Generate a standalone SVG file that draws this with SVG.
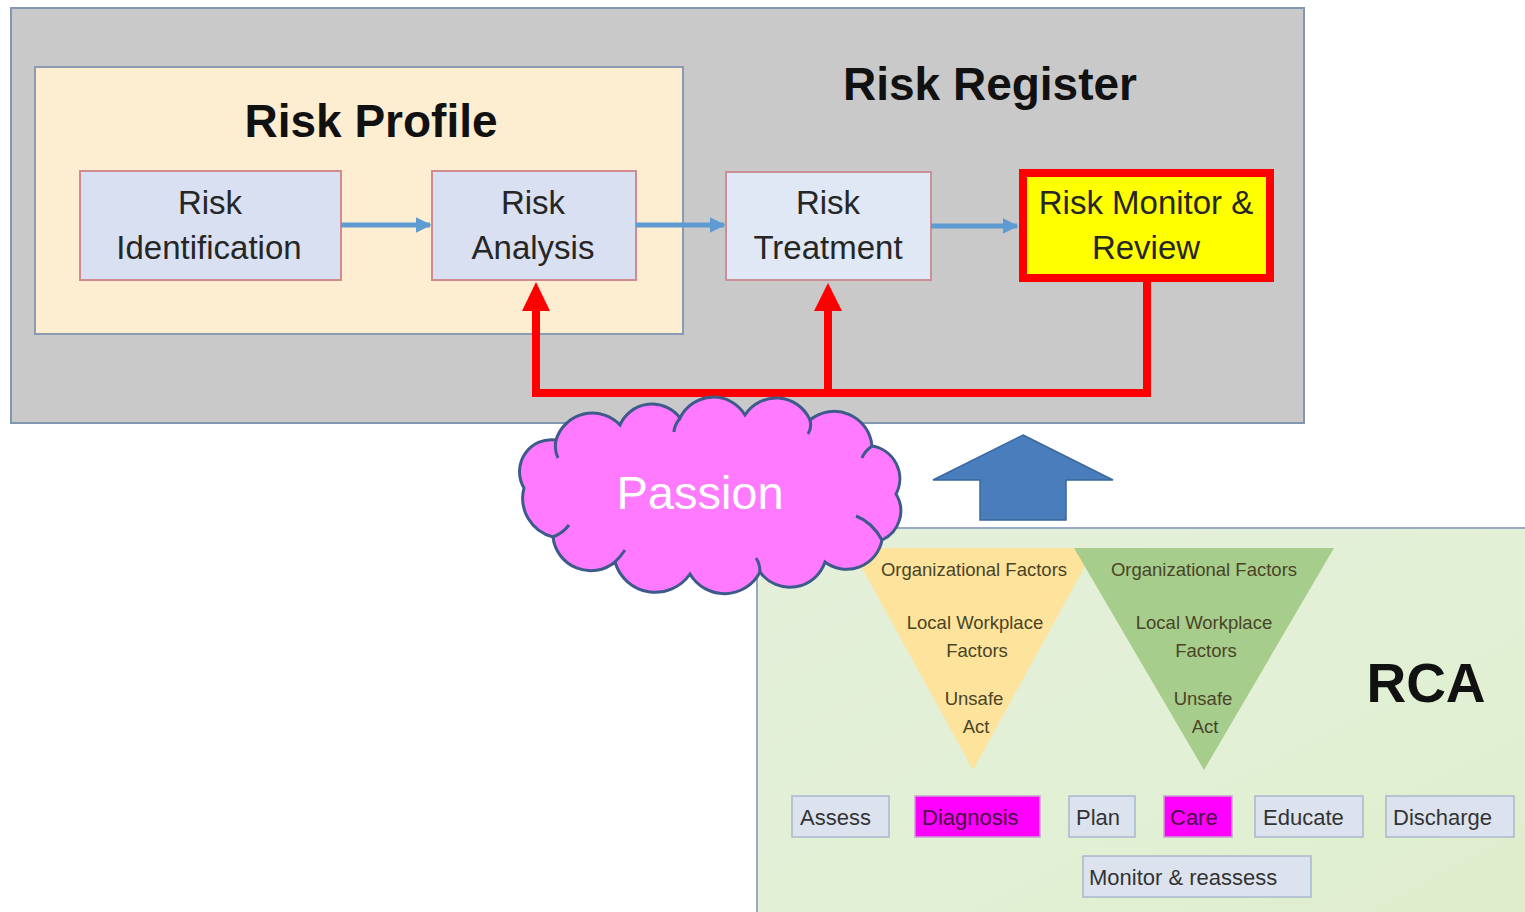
<svg xmlns="http://www.w3.org/2000/svg" width="1525" height="912" viewBox="0 0 1525 912">
<style>
text{font-family:"Liberation Sans",Arial,sans-serif}
.title{font-weight:bold;font-size:46px;fill:#111;text-anchor:middle}
.box{fill:#d9e0f1;stroke:#d08a90;stroke-width:2}
.bt{font-size:33px;fill:#262626;text-anchor:middle}
.blue{stroke:#5f9bd3;stroke-width:5;fill:none}
.red{stroke:#ff0000;stroke-width:8;fill:none}
.tri{font-size:18.5px;fill:#4a4426;text-anchor:middle}
.sb{fill:#dce3ee;stroke:#a9b8cc;stroke-width:1.5}
.mg{fill:#ff00ff;stroke:#c8a0d0;stroke-width:1.5}
.st{font-size:22px;fill:#333}
.mt{font-size:22px;fill:#4a1045}
.thin{stroke:#8aa0b4;stroke-width:1.5;fill:none}
</style>
<defs>
<marker id="ab" viewBox="0 0 10 10" refX="9" refY="5" markerWidth="3.2" markerHeight="3.2" orient="auto" markerUnits="strokeWidth"><path d="M0,0 L10,5 L0,10 z" fill="#5f9bd3"/></marker>
<marker id="as" viewBox="0 0 10 10" refX="9" refY="5" markerWidth="4" markerHeight="4" orient="auto" markerUnits="strokeWidth"><path d="M0,0 L10,5 L0,10 z" fill="#8aa0b4"/></marker>
<linearGradient id="rg" x1="0" y1="0" x2="1" y2="1">
<stop offset="0" stop-color="#e4efd9"/>
<stop offset="0.5" stop-color="#e2f0d6"/>
<stop offset="1" stop-color="#dfedcc"/>
</linearGradient>
</defs>

<g id="risk-register">
<rect x="11" y="8" width="1293" height="415" fill="#c9c9c9" stroke="#8497b0" stroke-width="2"/>
<text class="title" x="990" y="100">Risk Register</text>
</g>

<g id="risk-profile">
<rect x="35" y="67" width="648" height="267" fill="#fdeed2" stroke="#8a9ab0" stroke-width="2"/>
<text class="title" x="371" y="137">Risk Profile</text>
</g>

<g id="risk-identification">
<rect class="box" x="80" y="171" width="261" height="109"/>
<text class="bt" x="210" y="214">Risk</text>
<text class="bt" x="209" y="259">Identification</text>
</g>

<g id="risk-analysis">
<rect class="box" x="432" y="171" width="204" height="109"/>
<text class="bt" x="533" y="214">Risk</text>
<text class="bt" x="533" y="259">Analysis</text>
</g>

<g id="risk-treatment">
<rect x="726" y="172" width="205" height="108" fill="#dfe8f4" stroke="#c9909a" stroke-width="2"/>
<text class="bt" x="828" y="214">Risk</text>
<text class="bt" x="828" y="259">Treatment</text>
</g>

<g id="risk-monitor">
<rect x="1023" y="173" width="247" height="105" fill="#ffff00" stroke="#ff0000" stroke-width="8"/>
<text class="bt" x="1146" y="214">Risk Monitor &amp;</text>
<text class="bt" x="1146" y="259">Review</text>
</g>

<g id="connectors">
<line class="blue" x1="341" y1="225" x2="430" y2="225" marker-end="url(#ab)"/>
<line class="blue" x1="636" y1="225" x2="724" y2="225" marker-end="url(#ab)"/>
<line class="blue" x1="931" y1="226" x2="1017" y2="226" marker-end="url(#ab)"/>
<path class="red" d="M1147,280 V393 H536 V308"/>
<path class="red" d="M828,393 V308"/>
<polygon points="536,282 550,311 522,311" fill="#ff0000"/>
<polygon points="828,283 842,311 814,311" fill="#ff0000"/>
<line class="thin" x1="889" y1="817" x2="913" y2="817" marker-end="url(#as)"/>
<line class="thin" x1="1040" y1="817" x2="1067" y2="817" marker-end="url(#as)"/>
<line class="thin" x1="1135" y1="817" x2="1162" y2="817" marker-end="url(#as)"/>
<line class="thin" x1="1232" y1="817" x2="1254" y2="817" marker-end="url(#as)"/>
<line class="thin" x1="1363" y1="817" x2="1385" y2="817" marker-end="url(#as)"/>
<line class="thin" x1="1197" y1="838" x2="1197" y2="855" marker-end="url(#as)"/>
<path class="thin" d="M1052,817 V877 H1083"/>
</g>

<g id="rca">
<rect x="757" y="528" width="780" height="400" fill="url(#rg)" stroke="#9aaac4" stroke-width="2"/>
<polygon points="851,548 1095,548 973,770" fill="#fde39b"/>
<polygon points="1074,548 1334,548 1204,770" fill="#a6cd8c"/>
<text class="tri" x="974" y="576">Organizational Factors</text>
<text class="tri" x="975" y="629">Local Workplace</text>
<text class="tri" x="977" y="657">Factors</text>
<text class="tri" x="974" y="705">Unsafe</text>
<text class="tri" x="976" y="733">Act</text>
<text class="tri" x="1204" y="576">Organizational Factors</text>
<text class="tri" x="1204" y="629">Local Workplace</text>
<text class="tri" x="1206" y="657">Factors</text>
<text class="tri" x="1203" y="705">Unsafe</text>
<text class="tri" x="1205" y="733">Act</text>
<text x="1426" y="702" font-size="55" font-weight="bold" fill="#111" text-anchor="middle">RCA</text>
</g>

<g id="assess"><rect class="sb" x="792" y="796" width="97" height="41"/><text class="st" x="800" y="825">Assess</text></g>
<g id="diagnosis"><rect class="mg" x="915" y="796" width="125" height="41"/><text class="mt" x="922" y="825">Diagnosis</text></g>
<g id="plan"><rect class="sb" x="1069" y="796" width="66" height="41"/><text class="st" x="1076" y="825">Plan</text></g>
<g id="care"><rect class="mg" x="1164" y="796" width="68" height="41"/><text class="mt" x="1170" y="825">Care</text></g>
<g id="educate"><rect class="sb" x="1255" y="796" width="108" height="41"/><text class="st" x="1263" y="825">Educate</text></g>
<g id="discharge"><rect class="sb" x="1386" y="796" width="128" height="41"/><text class="st" x="1393" y="825">Discharge</text></g>
<g id="monitor-reassess"><rect class="sb" x="1083" y="856" width="228" height="41"/><text class="st" x="1089" y="885">Monitor &amp; reassess</text></g>

<g id="passion">
<path d="M524,488 A32,32 0 0 1 556,440 A38,38 0 0 1 620,425 A35,35 0 0 1 680,418 A37,37 0 0 1 745,415 A37,37 0 0 1 810,420 A38,38 0 0 1 872,446 A33,33 0 0 1 896,494 A32,32 0 0 1 882,540 A36,36 0 0 1 825,562 A37,37 0 0 1 760,572 A40,40 0 0 1 690,574 A42,42 0 0 1 615,562 A38,38 0 0 1 553,537 A40,40 0 0 1 524,488 Z" fill="#ff7aff" stroke="#3d5a8a" stroke-width="3"/>
<path d="M556,440 q-2,10 2,18 M680,418 q-6,8 -6,14 M810,420 q2,8 -2,14 M872,446 q-8,6 -10,12 M882,540 q-10,-18 -26,-24 M760,572 q0,-8 -4,-14 M615,562 q6,-6 10,-12 M553,537 q10,-4 16,-12" fill="none" stroke="#3d5a8a" stroke-width="3"/>
<text x="700" y="509" font-size="47" fill="#ffffff" text-anchor="middle">Passion</text>
</g>

<g id="up-arrow">
<polygon points="1023,435 1113,480 1066,480 1066,520 980,520 980,480 933,480" fill="#4a7dbb" stroke="#3a679f" stroke-width="1.5"/>
</g>
</svg>
